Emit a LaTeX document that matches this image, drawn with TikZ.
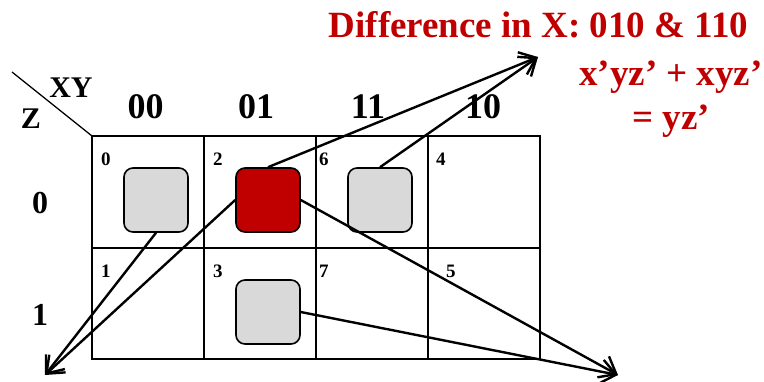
\documentclass[tikz,border=0pt]{standalone}
\usepackage{fontspec}
\setmainfont{Liberation Serif}
\usetikzlibrary{arrows.meta}
\definecolor{kred}{RGB}{192,0,0}
\definecolor{kgray}{RGB}{217,217,217}
\tikzset{
  big/.style={font=\fontsize{36}{40}\selectfont\bfseries, inner sep=0pt, anchor=base},
  rowlbl/.style={font=\fontsize{32}{36}\selectfont\bfseries, inner sep=0pt, anchor=base},
  axis/.style={font=\fontsize{30}{34}\selectfont\bfseries, inner sep=0pt, anchor=base},
  cellno/.style={font=\fontsize{19}{22}\selectfont\bfseries, inner sep=0pt, anchor=base west},
  redtxt/.style={font=\fontsize{37}{40}\selectfont\bfseries, text=kred, inner sep=0pt, anchor=base},
  gridline/.style={line width=2pt},
  gbox/.style={draw, line width=1.6pt, fill=kgray, rounded corners=9pt, minimum size=64pt, inner sep=0pt},
  rbox/.style={gbox, fill=kred},
  arr/.style={line width=2.4pt, -{Straight Barb[length=15pt, width=24pt, line width=2.4pt]}}
}
\begin{document}
\begin{tikzpicture}[x=1pt, y=-1pt]
\useasboundingbox (0,0) rectangle (764,381);
% grid
\draw[gridline] (92,136) rectangle (540,359);
\draw[gridline] (92,248) -- (540,248);
\draw[gridline] (204,136) -- (204,359);
\draw[gridline] (316,136) -- (316,359);
\draw[gridline] (428,136) -- (428,359);
\draw[line width=1.3pt] (12,72) -- (92,136);
% labels
\node[axis] (xy) at (71,97) {XY};
\node[axis] (z) at (31,128) {Z};
\node[big] (h00) at (145.5,118) {00};
\node[big] (h01) at (256,118) {01};
\node[big] (h11) at (368,118) {11};
\node[big] (h10) at (483,118) {10};
\node[rowlbl] (r0) at (40,213) {0};
\node[rowlbl] (r1) at (40,325) {1};
% cell numbers
\node[cellno] (c0) at (101,165) {0};
\node[cellno] (c2) at (213,165) {2};
\node[cellno] (c6) at (319,165) {6};
\node[cellno] (c4) at (436,165) {4};
\node[cellno] (c1) at (101,277) {1};
\node[cellno] (c3) at (213,277) {3};
\node[cellno] (c7) at (319,277) {7};
\node[cellno] (c5) at (446,277) {5};
% boxes
\node[gbox] (b0) at (156,200) {};
\node[rbox] (b2) at (268,200) {};
\node[gbox] (b6) at (380,200) {};
\node[gbox] (b3) at (268,312) {};
% arrow tips
\coordinate (tl) at (45,375);
\coordinate (tt) at (538,57);
\coordinate (tr) at (618,375);
\draw[arr] (b0.south) -- (tl);
\draw[arr] (b2.west) -- (tl);
\draw[arr] (b2.north) -- (tt);
\draw[arr] (b6.north) -- (tt);
\draw[arr] (b2.east) -- (tr);
\draw[arr] (b3.east) -- (tr);
% red text
\node[redtxt] (t1) at (538.5,37) {Difference in X: 010 \& 110};
\node[redtxt] (t2) at (671,85) {x’yz’ + xyz’};
\node[redtxt] (t3) at (671,129) {= yz’};
\end{tikzpicture}
\end{document}
